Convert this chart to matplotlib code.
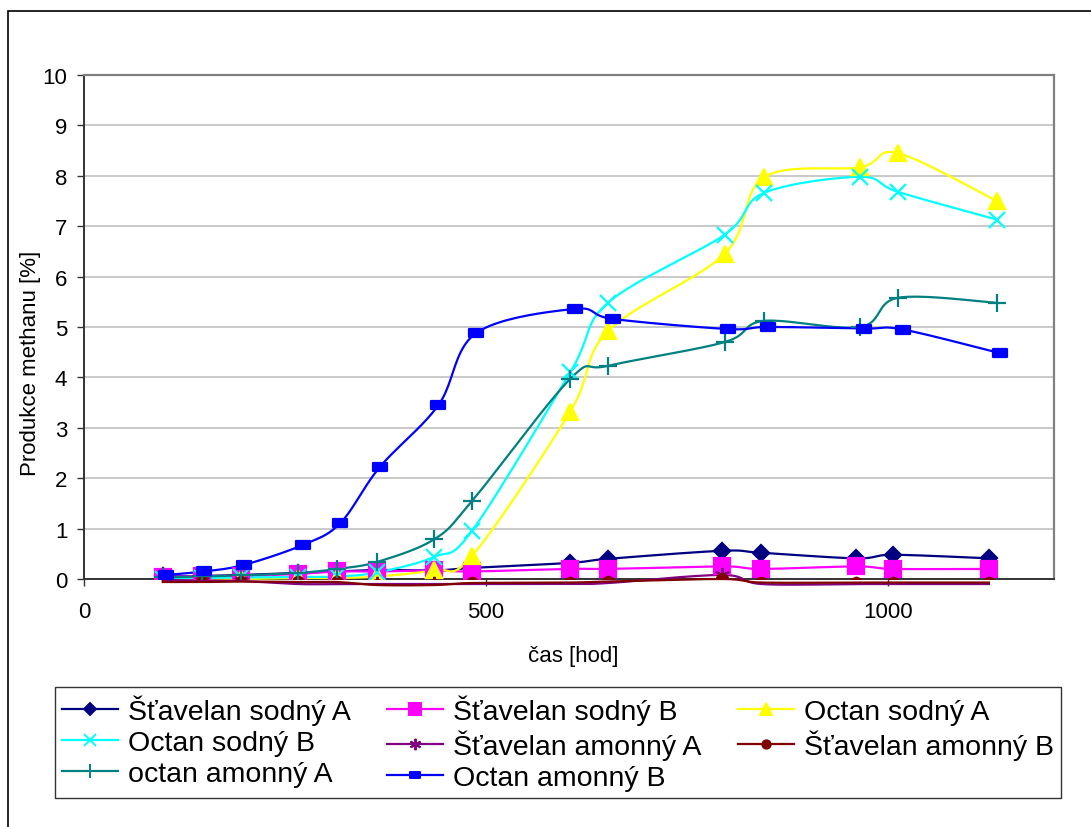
import numpy as np
import matplotlib
matplotlib.use("Agg")
import matplotlib.pyplot as plt
from matplotlib.path import Path
from matplotlib.patches import Rectangle

plt.rcParams["font.family"] = ["Liberation Sans", "DejaVu Sans"]

# time of sampling [h]
cas_stav = [98, 147, 195, 266, 315, 365, 436, 483, 605, 652, 794, 843, 961, 1007, 1126]
cas_oct = [98, 147, 195, 266, 315, 365, 436, 483, 605, 652, 797, 846, 966, 1013, 1136]
cas_oct_b = [102, 149, 199, 273, 319, 368, 441, 488, 611, 658, 801, 851, 971, 1019, 1140]

# methane production [%]
stav_sodny_a = [0.05, 0.06, 0.08, 0.12, 0.15, 0.18, 0.17, 0.22, 0.32, 0.40, 0.56, 0.52, 0.41, 0.48, 0.41]
stav_sodny_b = [0.04, 0.06, 0.06, 0.10, 0.15, 0.15, 0.17, 0.15, 0.20, 0.20, 0.25, 0.20, 0.25, 0.20, 0.20]
oct_sodny_a = [0.0, 0.0, 0.0, 0.02, 0.02, 0.05, 0.18, 0.46, 3.32, 4.92, 6.45, 7.97, 8.17, 8.45, 7.50]
oct_sodny_b = [0.0, 0.02, 0.03, 0.04, 0.05, 0.13, 0.44, 0.96, 4.10, 5.48, 6.83, 7.66, 7.98, 7.68, 7.13]
stav_amon_a = [-0.02, -0.03, -0.04, -0.10, -0.10, -0.10, -0.10, -0.10, -0.10, -0.08, 0.08, -0.10, -0.10, -0.10, -0.10]
stav_amon_b = [-0.06, -0.06, -0.05, -0.06, -0.06, -0.12, -0.12, -0.08, -0.07, -0.05, 0.0, -0.07, -0.07, -0.07, -0.07]
oct_amon_a = [0.03, 0.05, 0.07, 0.12, 0.20, 0.34, 0.79, 1.55, 3.97, 4.23, 4.70, 5.12, 5.00, 5.58, 5.48]
oct_amon_b = [0.08, 0.15, 0.28, 0.68, 1.11, 2.22, 3.45, 4.88, 5.36, 5.16, 4.96, 5.00, 4.97, 4.95, 4.48]

W, H = 1091, 828
X_MAX = 1207
# pixel scale of the plot area, used so the smoothing behaves like on screen
SX = (1054 - 84) / X_MAX
SY = (580 - 76) / 10.0


def smooth(x, y, n=24):
    pts = np.column_stack([np.asarray(x, float) * SX, np.asarray(y, float) * SY])
    out = [pts[0]]
    t = np.linspace(0, 1, n)[1:, None]
    for i in range(len(pts) - 1):
        p0 = pts[i - 1] if i > 0 else pts[i]
        p1, p2 = pts[i], pts[i + 1]
        p3 = pts[i + 2] if i + 2 < len(pts) else pts[i + 1]
        c1 = p1 + (p2 - p0) / 6
        c2 = p2 - (p3 - p1) / 6
        seg = (1 - t) ** 3 * p1 + 3 * (1 - t) ** 2 * t * c1 + 3 * (1 - t) * t ** 2 * c2 + t ** 3 * p2
        out.extend(seg)
    out = np.array(out)
    return out[:, 0] / SX, out[:, 1] / SY


rect_marker = Path([(-1, -0.6), (1, -0.6), (1, 0.6), (-1, 0.6), (-1, -0.6)],
                   [Path.MOVETO, Path.LINETO, Path.LINETO, Path.LINETO, Path.CLOSEPOLY])

series = [
    ("Šťavelan sodný A", cas_stav, stav_sodny_a, "#000080", "D", 8),
    ("Šťavelan sodný B", cas_stav, stav_sodny_b, "#FF00FF", "s", 11),
    ("Octan sodný A", cas_oct, oct_sodny_a, "#FFFF00", "^", 12),
    ("Octan sodný B", cas_oct, oct_sodny_b, "#00FFFF", "x", 11),
    ("Šťavelan amonný A", cas_stav, stav_amon_a, "#800080", (6, 2, 0), 11),
    ("Šťavelan amonný B", cas_stav, stav_amon_b, "#800000", "o", 8),
    ("octan amonný A", cas_oct, oct_amon_a, "#008080", "+", 13),
    ("Octan amonný B", cas_oct_b, oct_amon_b, "#0000FF", rect_marker, 10),
]

fig = plt.figure(figsize=(W / 100, H / 100), dpi=100)
fig.patches.append(Rectangle((8 / W, -0.05), 1.2, 1 - 12 / H + 0.05, transform=fig.transFigure,
                             fill=False, edgecolor="black", linewidth=1.2))

ax = fig.add_axes([84 / W, 1 - 580 / H, (1054 - 84) / W, (580 - 76) / H])

handles = []
for label, x, y, color, marker, ms in series:
    xs, ys = smooth(x, y)
    # lines may run a little below zero, markers stay inside the plot area
    ax.plot(xs, ys, color=color, linewidth=1.6, clip_on=False, zorder=3)
    ax.plot(x, y, linestyle="none", marker=marker, markersize=ms, color=color,
            markeredgecolor=color, markeredgewidth=1.6, zorder=4)
    h, = ax.plot([], [], color=color, linewidth=1.6, marker=marker,
                 markersize=ms * 0.75, markeredgecolor=color, markeredgewidth=1.4)
    handles.append(h)

ax.set_xlim(0, X_MAX)
ax.set_ylim(0, 10)
ax.set_xticks([0, 500, 1000])
ax.set_yticks(range(0, 11))
ax.yaxis.grid(True, color="#c0c0c0", linewidth=1.2)
ax.set_axisbelow(True)
ax.tick_params(axis="both", labelsize=16, length=5, width=1, direction="out", color="#333333")
ax.tick_params(axis="x", pad=11)
ax.tick_params(axis="y", pad=7)
for side in ["top", "right"]:
    ax.spines[side].set_color("#808080")
    ax.spines[side].set_linewidth(1.6)
for side in ["left", "bottom"]:
    ax.spines[side].set_color("#333333")
    ax.spines[side].set_linewidth(1.4)

fig.text(31 / W, 1 - 363 / H, "Produkce methanu [%]", rotation=90, ha="center", va="center", fontsize=16)
fig.text(573 / W, 1 - 657 / H, "čas [hod]", ha="center", va="center", fontsize=16)

order = [0, 3, 6, 1, 4, 7, 2, 5]
leg = fig.legend([handles[i] for i in order], [series[i][0] for i in order],
                 loc="upper left", bbox_to_anchor=(55 / W, 1 - 688 / H), ncol=3,
                 fontsize=20.5, frameon=True, fancybox=False, edgecolor="black",
                 handlelength=1.95, handletextpad=0.35, columnspacing=1.3,
                 labelspacing=0.18, borderpad=0.25, borderaxespad=0)
leg.get_frame().set_linewidth(1.0)

fig.savefig("out.png", dpi=100, facecolor="white")
